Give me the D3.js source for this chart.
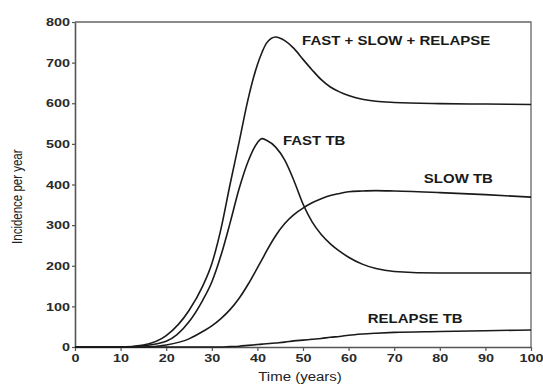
<!DOCTYPE html>
<html>
<head>
<meta charset="utf-8">
<script src="https://cdn.jsdelivr.net/npm/d3@7"></script>
<style>
  html, body { margin: 0; padding: 0; background: #fff; }
  svg { display: block; font-family: "Liberation Sans", Arial, sans-serif; }
</style>
</head>
<body>
<div id="chart"></div>
<script>
// values (time in years, incidence per year)
const years     = [0, 10, 15, 20, 25, 28, 30, 32, 34, 36, 38, 40, 41, 42, 44, 46, 48, 50, 52, 54, 56, 58, 60, 63, 66, 70, 80, 90, 100];
const fastTB    = [0, 0, 3, 14, 62, 115, 160, 225, 305, 390, 458, 503, 513, 509, 492, 460, 410, 352, 308, 277, 254, 236, 221, 204, 193, 186, 182, 182, 182];
const slowTB    = [0, 0, 0, 5, 20, 38, 52, 70, 92, 120, 155, 195, 215, 236, 274, 304, 326, 342, 355, 365, 373, 378, 382, 384, 385, 384, 380, 375, 369];
const relapseTB = [0, 0, 0, 0, 0, 0, 0, 0, 1, 2, 4, 6, 7, 8, 10, 12, 15, 17, 19, 21, 24, 26, 29, 32, 34, 36, 38, 40, 42];
const totalTB   = [0, 0, 5, 28, 90, 150, 205, 290, 400, 505, 612, 695, 725, 748, 763, 754, 735, 708, 682, 658, 640, 628, 619, 610, 605, 602, 599, 598, 597];

const xTicks = [0, 10, 20, 30, 40, 50, 60, 70, 80, 90, 100];
const yTicks = [0, 100, 200, 300, 400, 500, 600, 700, 800];

const seriesNames = ["FAST + SLOW + RELAPSE", "FAST TB", "SLOW TB", "RELAPSE TB"];
const seriesValues = [totalTB, fastTB, slowTB, relapseTB];
// label anchor points in data units (year, incidence)
const labelYears = [49.8, 45.6, 76.5, 64.2];
const labelValues = [744, 497, 404, 59];

const width = 543;
const height = 385;
const margin = { top: 22, right: 12, bottom: 38, left: 75 };

const svg = d3.select("#chart")
  .append("svg")
  .attr("width", width)
  .attr("height", height);

const x = d3.scaleLinear().domain([0, 100]).range([margin.left, width - margin.right]);
const y = d3.scaleLinear().domain([0, 800]).range([height - margin.bottom, margin.top]);

// frame (top and right edges)
svg.append("path")
  .attr("d", `M${x(0)},${y(800)}H${x(100)}V${y(0)}`)
  .attr("fill", "none")
  .attr("stroke", "#666")
  .attr("stroke-width", 1.3);

// the scanned figure is a little wider than tall, so glyphs get stretched
const stretch = "scale(1.25,1)";

const xAxis = svg.append("g")
  .attr("transform", `translate(0,${y(0)})`)
  .call(d3.axisBottom(x).tickValues(xTicks).tickSize(4).tickSizeOuter(0).tickPadding(3));

const yAxis = svg.append("g")
  .attr("transform", `translate(${x(0)},0)`)
  .call(d3.axisLeft(y).tickValues(yTicks).tickSize(3).tickSizeOuter(0).tickPadding(1));

[xAxis, yAxis].forEach((g) => {
  g.select(".domain").attr("stroke", "#555").attr("stroke-width", 1.6);
  g.selectAll(".tick line").attr("stroke", "#555").attr("stroke-width", 1.2);
  g.selectAll(".tick text")
    .attr("fill", "#2a2a2a")
    .attr("font-size", 11.5)
    .attr("font-weight", "bold")
    .attr("font-family", "'Liberation Sans', Arial, sans-serif")
    .attr("transform", stretch);
});

// axis titles
svg.append("text")
  .attr("transform", `translate(${x(50) - 3},${height - 4}) ${stretch}`)
  .attr("text-anchor", "middle")
  .attr("font-size", 12)
  .attr("fill", "#222")
  .text("Time (years)");

svg.append("text")
  .attr("transform", `translate(22,${y(370)}) rotate(-90) scale(1,1.2)`)
  .attr("text-anchor", "middle")
  .attr("font-size", 11.5)
  .attr("fill", "#222")
  .text("Incidence per year");

// curves
const line = d3.line()
  .x((d, i) => x(years[i]))
  .y((d) => y(d))
  .curve(d3.curveMonotoneX);

svg.append("g")
  .selectAll("path.series")
  .data(seriesValues)
  .join("path")
  .attr("class", "series")
  .attr("d", line)
  .attr("fill", "none")
  .attr("stroke", "#1a1a1a")
  .attr("stroke-width", 1.6)
  .attr("stroke-linejoin", "round");

// curve labels
svg.append("g")
  .selectAll("text.label")
  .data(seriesNames)
  .join("text")
  .attr("class", "label")
  .attr("transform", (d, i) => `translate(${x(labelYears[i])},${y(labelValues[i])}) scale(1.2,1)`)
  .attr("font-size", 12.5)
  .attr("font-weight", "bold")
  .attr("fill", "#1a1a1a")
  .text((d) => d);
</script>
</body>
</html>
